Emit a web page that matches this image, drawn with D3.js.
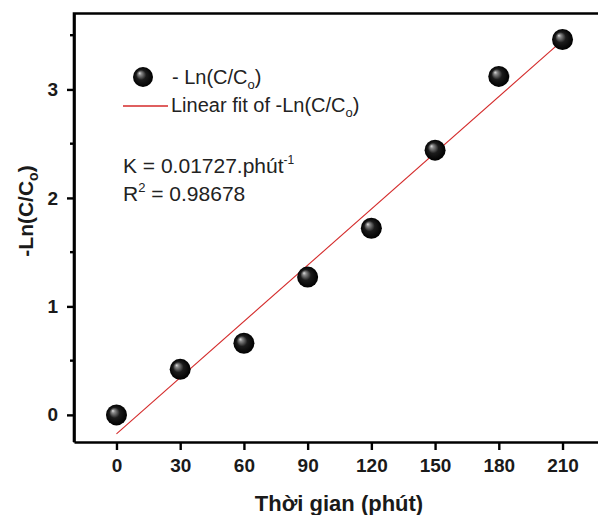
<!DOCTYPE html>
<html>
<head>
<meta charset="utf-8">
<script src="https://cdn.jsdelivr.net/npm/d3@7"></script>
<style>
  body { margin: 0; background: #fff; }
  svg { display: block; font-family: Arial, "Liberation Sans", sans-serif; }
</style>
</head>
<body>
<div id="chart"></div>
<script>
// data
const times = [0, 30, 60, 90, 120, 150, 180, 210];
const lnValues = [0, 0.42, 0.66, 1.27, 1.72, 2.44, 3.12, 3.46];
const xTicks = [0, 30, 60, 90, 120, 150, 180, 210];
const yTicks = [0, 1, 2, 3];
const yMinorTicks = [0.5, 1.5, 2.5, 3.5];
const fitSlope = 0.01727;
const fitIntercept = -0.175;
const fitRange = [0, 210];

const width = 598, height = 515;
const ink = "#1a1a1a";

const x = d3.scaleLinear().domain([-20, 230]).range([74, 605]);
const y = d3.scaleLinear().domain([-0.25, 3.7]).range([442, 13.5]);

const svg = d3.select("#chart").append("svg")
    .attr("width", width)
    .attr("height", height)
    .attr("viewBox", [0, 0, width, height]);

const defs = svg.append("defs");
const grad = defs.append("radialGradient")
    .attr("id", "ball")
    .attr("cx", "50%").attr("cy", "50%").attr("r", "50%")
    .attr("fx", "32%").attr("fy", "30%");
grad.append("stop").attr("offset", "0%").attr("stop-color", "#e0e0e0");
grad.append("stop").attr("offset", "16%").attr("stop-color", "#8a8a8a");
grad.append("stop").attr("offset", "50%").attr("stop-color", "#1c1c1c");
grad.append("stop").attr("offset", "100%").attr("stop-color", "#000");

// frame (top edge; right edge falls outside the picture)
svg.append("path")
    .attr("fill", "none")
    .attr("stroke", "#000")
    .attr("stroke-width", 2.6)
    .attr("d", `M${x.range()[0]},${y.range()[0]}V${y.range()[1]}H${x.range()[1]}`);

// x axis
svg.append("g")
    .attr("transform", `translate(0,${y.range()[0]})`)
    .call(d3.axisBottom(x).tickValues(xTicks).tickSize(8).tickPadding(9).tickSizeOuter(0))
    .call(g => g.select(".domain").attr("stroke-width", 2.6))
    .call(g => g.selectAll(".tick line").attr("stroke-width", 2.4))
    .call(g => g.selectAll(".tick text")
        .attr("fill", ink)
        .attr("font-size", 19)
        .attr("font-weight", "bold")
        .attr("font-family", "Arial, 'Liberation Sans', sans-serif"));

// y axis
svg.append("g")
    .attr("transform", `translate(${x.range()[0]},0)`)
    .call(d3.axisLeft(y).tickValues(yTicks).tickFormat(d3.format("d")).tickSize(7).tickPadding(9).tickSizeOuter(0))
    .call(g => g.select(".domain").attr("stroke-width", 2.6))
    .call(g => g.selectAll(".tick line").attr("stroke-width", 2.4))
    .call(g => g.selectAll(".tick text")
        .attr("fill", ink)
        .attr("font-size", 19)
        .attr("font-weight", "bold")
        .attr("font-family", "Arial, 'Liberation Sans', sans-serif"));

svg.append("g")
    .attr("stroke", "#000")
    .attr("stroke-width", 2.4)
    .selectAll("line")
    .data(yMinorTicks)
    .join("line")
    .attr("x1", x.range()[0] - 4)
    .attr("x2", x.range()[0])
    .attr("y1", d => y(d))
    .attr("y2", d => y(d));

// axis titles
svg.append("text")
    .attr("x", 339)
    .attr("y", 511)
    .attr("text-anchor", "middle")
    .attr("font-size", 22)
    .attr("font-weight", "bold")
    .attr("fill", ink)
    .text("Thời gian (phút)");

const yTitle = svg.append("text")
    .attr("transform", "translate(33,211) rotate(-90)")
    .attr("text-anchor", "middle")
    .attr("font-size", 21)
    .attr("font-weight", "bold")
    .attr("fill", ink);
yTitle.append("tspan").text("-Ln(C/C");
yTitle.append("tspan").attr("font-size", 14).attr("dy", 5).text("o");
yTitle.append("tspan").attr("dy", -5).text(")");

// fit line
svg.append("line")
    .attr("stroke", "#d42a2a")
    .attr("stroke-width", 1.1)
    .attr("x1", x(fitRange[0]))
    .attr("y1", y(fitIntercept + fitSlope * fitRange[0]))
    .attr("x2", x(fitRange[1]))
    .attr("y2", y(fitIntercept + fitSlope * fitRange[1]));

// points
svg.append("g")
    .selectAll("circle")
    .data(times)
    .join("circle")
    .attr("cx", d => x(d))
    .attr("cy", (d, i) => y(lnValues[i]))
    .attr("r", 10.5)
    .attr("fill", "url(#ball)");

// legend
const legend = svg.append("g").attr("font-size", 20).attr("fill", "#222");
legend.append("circle")
    .attr("cx", 143).attr("cy", 77).attr("r", 10)
    .attr("fill", "url(#ball)");
const l1 = legend.append("text").attr("x", 172).attr("y", 84);
l1.append("tspan").text("- Ln(C/C");
l1.append("tspan").attr("font-size", 13).attr("dy", 5).text("o");
l1.append("tspan").attr("dy", -5).text(")");

legend.append("line")
    .attr("x1", 123).attr("x2", 168)
    .attr("y1", 106).attr("y2", 106)
    .attr("stroke", "#d42a2a")
    .attr("stroke-width", 1.4);
const l2 = legend.append("text").attr("x", 171).attr("y", 112);
l2.append("tspan").text("Linear fit of -Ln(C/C");
l2.append("tspan").attr("font-size", 13).attr("dy", 5).text("o");
l2.append("tspan").attr("dy", -5).text(")");

// rate constant annotation
const note = svg.append("g").attr("font-size", 21).attr("fill", "#222");
const k = note.append("text").attr("x", 123).attr("y", 173);
k.append("tspan").text("K = 0.01727.phút");
k.append("tspan").attr("font-size", 12).attr("dy", -9).text("-1");
const r = note.append("text").attr("x", 123).attr("y", 201);
r.append("tspan").text("R");
r.append("tspan").attr("font-size", 13).attr("dy", -9).text("2");
r.append("tspan").attr("dy", 9).text(" = 0.98678");
</script>
</body>
</html>
